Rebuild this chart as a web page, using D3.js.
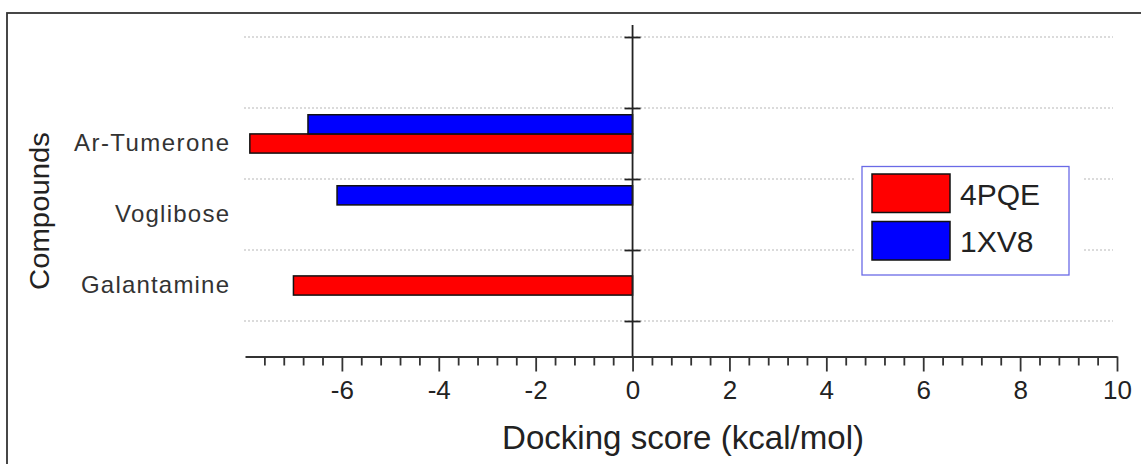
<!DOCTYPE html>
<html>
<head>
<meta charset="utf-8">
<script src="https://cdn.jsdelivr.net/npm/d3@7"></script>
<style>
  body { margin: 0; background: #fff; }
  svg { display: block; font-family: "Liberation Sans", Arial, sans-serif; }
</style>
</head>
<body>
<svg id="chart" width="1141" height="464"></svg>
<script>
// data
var categories = ["Galantamine", "Voglibose", "Ar-Tumerone"]; // bottom to top, at y = 1, 2, 3
var labelLengths = [148, 114, 155];
var series = ["4PQE", "1XV8"];
var colors = ["#ff0000", "#0000ff"];
var values4PQE = [-7.0, null, -7.9];
var values1XV8 = [null, -6.1, -6.7];
var majorTicks = [-6, -4, -2, 0, 2, 4, 6, 8, 10];
var gridValues = [0.5, 1.5, 2.5, 3.5, 4.5];

var svg = d3.select("#chart");

// x axis scaling stuff
var xScale = d3.scaleLinear().domain([-8, 10]).range([245, 1117]);
// y axis scaling stuff (categories sit at 1, 2, 3)
var yScale = d3.scaleLinear().domain([0, 4.5]).range([356.5, 37]);

// outer frame (right and bottom edges run off the picture)
svg.append("rect").attr("x", 7).attr("y", 13).attr("width", 1200).attr("height", 500)
    .attr("fill", "none").attr("stroke", "#333").attr("stroke-width", 1.8);

// dotted gridlines
svg.selectAll(".grid").data(gridValues).enter().append("line")
    .attr("class", "grid")
    .attr("x1", 244).attr("x2", 1113)
    .attr("y1", function(d){ return yScale(d); })
    .attr("y2", function(d){ return yScale(d); })
    .attr("stroke", "#b8b8b8").attr("stroke-width", 1.2)
    .attr("stroke-dasharray", "2,2");

// bars
var barH = 0.27;
var rows = [];
categories.forEach(function(c, i){
  if (values4PQE[i] != null) rows.push({cat: i + 1, v: values4PQE[i], s: 0});
  if (values1XV8[i] != null) rows.push({cat: i + 1, v: values1XV8[i], s: 1});
});
svg.selectAll(".bar").data(rows).enter().append("rect")
    .attr("class", "bar")
    .attr("x", function(d){ return xScale(d.v); })
    .attr("width", function(d){ return xScale(0) - xScale(d.v); })
    .attr("y", function(d){ return yScale(d.cat + barH / 2 + d.s * barH); })
    .attr("height", function(d){ return yScale(0) - yScale(barH); })
    .attr("fill", function(d){ return colors[d.s]; })
    .attr("stroke", "#111").attr("stroke-width", 1.5);

// x axis: minor ticks, then major ticks with labels
var minorTicks = d3.range(-19, 26).map(function(k){ return +(k * 0.4).toFixed(1); })
    .filter(function(v){ return v % 2 !== 0; });
var xMinor = d3.axisBottom(xScale).tickValues(minorTicks).tickSize(9).tickSizeOuter(0).tickFormat("");
var xMajor = d3.axisBottom(xScale).tickValues(majorTicks).tickSize(15).tickSizeOuter(0)
    .tickPadding(9).tickFormat(function(d){ return String(d); });
var gx1 = svg.append("g").attr("transform", "translate(0," + yScale(0) + ")").call(xMinor);
var gx2 = svg.append("g").attr("transform", "translate(0," + yScale(0) + ")").call(xMajor);
gx1.select(".domain").remove();
[gx1, gx2].forEach(function(g){
  g.selectAll("line").attr("stroke", "#333").attr("stroke-width", 1.8);
});
gx2.select(".domain").attr("stroke", "#333").attr("stroke-width", 1.8);
gx2.selectAll("text").attr("font-size", 26).attr("fill", "#222")
    .attr("font-family", "Liberation Sans, Arial, sans-serif");

// y axis at x = 0 with ticks crossing it
var yTop = 4.67;
svg.append("line")
    .attr("x1", xScale(0)).attr("x2", xScale(0))
    .attr("y1", yScale(yTop)).attr("y2", yScale(0))
    .attr("stroke", "#222").attr("stroke-width", 1.8);
var yL = d3.axisLeft(yScale).tickValues(gridValues).tickSize(8).tickFormat("");
var yR = d3.axisRight(yScale).tickValues(gridValues).tickSize(8).tickFormat("");
[yL, yR].forEach(function(ax){
  var g = svg.append("g").attr("transform", "translate(" + xScale(0) + ",0)").call(ax);
  g.select(".domain").remove();
  g.selectAll("line").attr("stroke", "#222").attr("stroke-width", 1.8);
});

// category labels
svg.selectAll(".cat").data(categories).enter().append("text")
    .attr("class", "cat")
    .attr("x", 229)
    .attr("y", function(d, i){ return yScale(i + 1); })
    .attr("dy", "0.33em")
    .attr("text-anchor", "end")
    .attr("font-size", 24)
    .attr("fill", "#333")
    .attr("textLength", function(d, i){ return labelLengths[i]; })
    .attr("lengthAdjust", "spacing")
    .text(function(d){ return d; });

// axis titles
svg.append("text")
    .attr("x", 683).attr("y", 449)
    .attr("text-anchor", "middle")
    .attr("font-size", 33).attr("fill", "#222")
    .attr("textLength", 362).attr("lengthAdjust", "spacingAndGlyphs")
    .text("Docking score (kcal/mol)");
svg.append("text")
    .attr("transform", "translate(49,211) rotate(-90)")
    .attr("text-anchor", "middle")
    .attr("font-size", 28).attr("fill", "#222")
    .attr("textLength", 158).attr("lengthAdjust", "spacingAndGlyphs")
    .text("Compounds");

// legend
var legend = svg.append("g");
legend.append("rect").attr("x", 855).attr("y", 162).attr("width", 227).attr("height", 118).attr("fill", "#fff");
legend.append("rect").attr("x", 862).attr("y", 166.5).attr("width", 207).attr("height", 108.5)
    .attr("fill", "#fff").attr("stroke", "#6a6ae6").attr("stroke-width", 1.3);
series.forEach(function(s, i){
  legend.append("rect")
      .attr("x", 872).attr("y", 174 + i * 47.5).attr("width", 78).attr("height", 38.5)
      .attr("fill", colors[i]).attr("stroke", "#111").attr("stroke-width", 1.5);
  legend.append("text")
      .attr("x", 960).attr("y", 205 + i * 47)
      .attr("font-size", 30).attr("fill", "#222")
      .text(s);
});
</script>
</body>
</html>
